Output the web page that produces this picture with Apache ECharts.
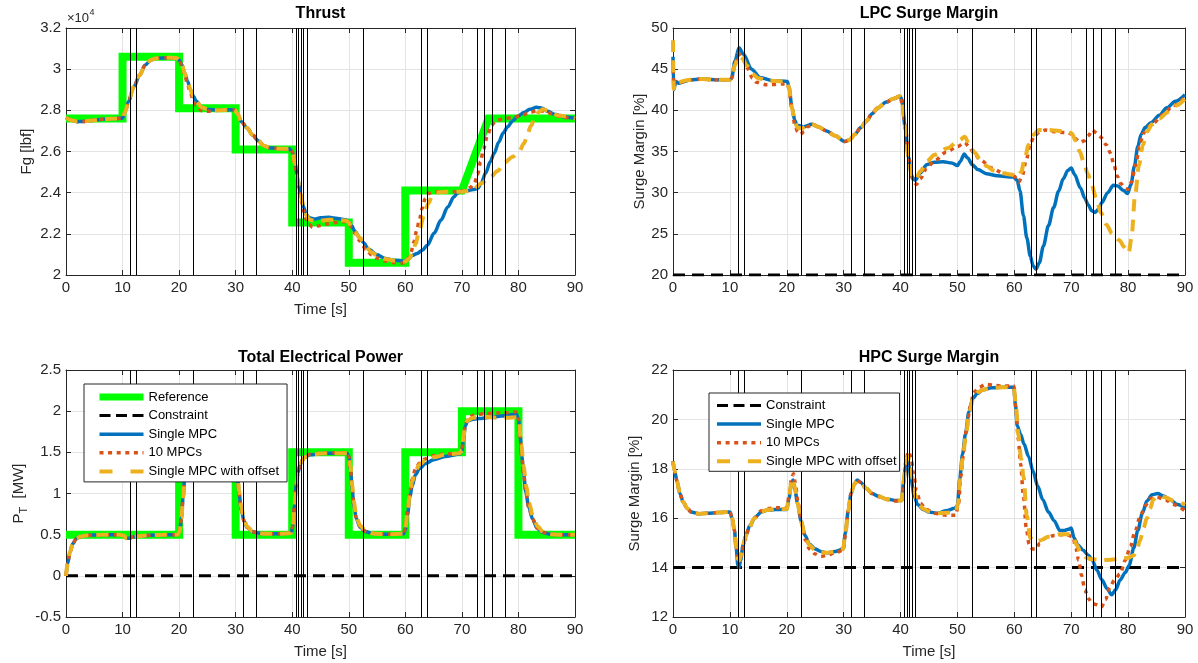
<!DOCTYPE html>
<html><head><meta charset="utf-8">
<script src="https://cdn.jsdelivr.net/npm/echarts@6/dist/echarts.min.js"></script>
<style>html,body{margin:0;padding:0;background:#fff}#c{width:1198px;height:663px}</style>
</head><body><div id="c"></div><script>
// ---------------- DATA ----------------
const timeTicks = [0, 10, 20, 30, 40, 50, 60, 70, 80, 90];
const switchTimes = [11.4, 12.5, 22.5, 31.3, 33.7, 40.7, 41.1, 41.6, 42.0, 42.6, 52.6, 62.9, 63.9, 72.7, 73.9, 75.3, 77.7];
const seriesNames = ['Reference', 'Constraint', 'Single MPC', '10 MPCs', 'Single MPC with offset'];

// Thrust [lbf]
const thrustRef = [[0,27600],[10,27600],[10,30600],[20,30600],[20,28100],[30,28100],[30,26100],[40,26100],[40,22550],[50,22550],[50,20600],[60,20600],[60,24100],[70,24100],[74.7,27600],[90,27600]];
const thrustSingle = [[0,27650],[1,27520],[2,27450],[3,27460],[5,27520],[7,27580],[9,27600],[10,27620],[10.5,27950],[11,28400],[12,29150],[13,29700],[14,30200],[15,30450],[16,30530],[18,30560],[19.5,30540],[20,30450],[20.5,30200],[21,29800],[21.5,29400],[22,29000],[22.5,28700],[23,28450],[24,28150],[25,28050],[27,28000],[29,28030],[29.8,28020],[30.3,27850],[31,27450],[32,27150],[33,26800],[34,26520],[35,26280],[36,26180],[38,26130],[39.5,26130],[40,26000],[40.5,25400],[41,24600],[41.5,23900],[42,23300],[42.5,22950],[43,22780],[44,22720],[45,22780],[46.5,22800],[48,22750],[49.5,22680],[50,22580],[50.5,22400],[51,22150],[52,21800],[52.6,21570],[53.5,21250],[55,20980],[56.5,20800],[58,20720],[59.5,20680],[60,20690],[60.5,20760],[61.2,20950],[62.1,21050],[63,21200],[63.9,21450],[65.1,22040],[66.3,22670],[67.5,23300],[68.6,23800],[69.2,23970],[70,24080],[71,24100],[72,24150],[72.8,24200],[73.4,24450],[74.2,24950],[75,25500],[75.7,25900],[76.5,26450],[77.3,26900],[78.1,27200],[79,27500],[79.8,27700],[81,27900],[82,28050],[83.2,28150],[84.2,28100],[85.2,27950],[86.5,27800],[88,27680],[90,27620]];
const thrustMPCs = [[0,27650],[1,27520],[2,27450],[3,27460],[5,27520],[7,27580],[9,27600],[10,27620],[10.5,27950],[11,28400],[12,29150],[13,29700],[14,30200],[15,30450],[16,30530],[18,30560],[19.5,30540],[20,30450],[20.5,30150],[21,29700],[21.5,29250],[22,28850],[22.5,28500],[23,28250],[24,27980],[25,27950],[26,27980],[27,28000],[29,28030],[29.8,28020],[30.3,27850],[31,27450],[32,27150],[33,26800],[34,26520],[35,26280],[36,26180],[38,26130],[39.5,26120],[40,26000],[40.5,25300],[41,24400],[41.5,23700],[42,23100],[42.5,22700],[43,22450],[43.6,22320],[44.5,22380],[46,22480],[48,22560],[49.5,22600],[50,22520],[50.5,22300],[51,22050],[52,21650],[53,21250],[54,20980],[55,20820],[56.5,20680],[58,20600],[59.5,20580],[60,20620],[60.5,20800],[61,21100],[61.5,21600],[62,22150],[62.5,22700],[63,23250],[63.5,23700],[64,23950],[65,24050],[67,24050],[69,24050],[70.5,24100],[71.5,24250],[72.2,24450],[72.8,24900],[73.3,25500],[73.8,26100],[74.5,26750],[75.2,27250],[76,27500],[77.5,27600],[79,27650],[80.5,27750],[82,27900],[83.5,28000],[85,27920],[86.5,27750],[88,27650],[90,27600]];
const thrustOffset = [[0,27650],[1,27520],[2,27450],[3,27460],[5,27520],[7,27580],[9,27600],[10,27620],[10.5,27950],[11,28400],[12,29150],[13,29700],[14,30200],[15,30450],[16,30530],[18,30560],[19.5,30540],[20,30450],[20.5,30200],[21,29800],[21.5,29400],[22,29000],[22.5,28700],[23,28450],[24,28150],[25,28050],[27,28000],[29,28030],[29.8,28020],[30.3,27850],[31,27450],[32,27150],[33,26800],[34,26520],[35,26280],[36,26180],[38,26130],[39.5,26130],[40,26000],[40.5,25400],[41,24600],[41.5,23900],[42,23300],[42.5,22900],[43,22700],[44,22620],[45,22640],[46.5,22680],[48,22680],[49.5,22650],[50,22550],[50.5,22350],[51,22100],[52,21800],[53,21400],[54,21100],[55,20950],[56.5,20780],[58,20700],[59.5,20660],[60,20660],[60.7,20800],[61.3,21100],[61.8,21500],[62.5,22200],[63.3,22900],[64,23450],[64.8,23850],[65.5,24000],[67,24050],[70,24050],[71,24080],[72,24150],[73.4,24450],[75.1,24780],[76.3,25050],[77.5,25450],[79,25750],[80.1,25990],[81,26400],[81.6,26850],[82.2,27250],[82.8,27550],[83.5,27900],[84.3,28050],[85.5,27950],[87,27750],[90,27600]];

// LPC surge margin [%]
const lpcConstraint = 20;
const lpcSingle = [[0,46.5],[0.12,42.5],[0.5,43.5],[1,43.3],[2,43.5],[3,43.7],[5,43.8],[8,43.7],[10,43.7],[10.3,43.9],[10.9,46.0],[11.6,47.6],[12.4,46.8],[13.8,45.0],[15.3,44.0],[17.6,43.6],[20.1,43.5],[20.4,42.8],[20.9,40.4],[21.4,38.8],[21.8,38.2],[22.9,38.0],[24.4,38.3],[25.5,38.0],[27,37.5],[28.5,36.9],[30.2,36.2],[31,36.4],[32,37.1],[33,37.9],[34,38.7],[35,39.6],[36,40.3],[37.5,41.0],[38.7,41.4],[39.9,41.7],[40.2,41.4],[40.8,38.0],[41.4,34.3],[42,31.9],[42.6,31.5],[43.5,32.4],[44.6,33.4],[46,33.7],[47.5,33.75],[49,33.6],[50,33.3],[50.5,33.8],[51.2,34.7],[51.8,34.2],[52.6,33.4],[53.6,32.8],[55.1,32.3],[57,32.05],[59.8,31.9],[60.5,31.5],[61,30.2],[61.6,27.2],[62.2,24.5],[62.8,22.3],[63.3,21.1],[63.8,20.7],[64.4,21.5],[65.1,23.5],[66,26],[66.9,28.2],[67.8,30.2],[68.6,31.7],[69.4,32.7],[70,33],[70.6,32.2],[71.6,30.6],[72.4,29.3],[73,28.5],[73.6,27.8],[74.2,27.6],[74.8,28.0],[75.4,28.8],[76.4,30.0],[77.4,30.9],[78.2,30.8],[79.1,30.3],[79.9,29.9],[80.5,31.0],[81.1,33.2],[81.7,35.6],[82.3,37.1],[83,37.9],[84,38.5],[85.5,39.4],[86.8,40.3],[88.3,41.1],[90,41.9]];
const lpcMPCs = [[0,46],[0.12,43.0],[0.5,43.5],[1,43.3],[2,43.5],[3,43.7],[5,43.8],[8,43.7],[10,43.7],[10.3,43.9],[10.9,45.5],[11.5,46.9],[12.2,46.4],[13,45.2],[14,43.9],[14.7,43.4],[16.5,43.1],[19.4,43.2],[20.1,43.2],[20.4,42.6],[20.9,40.2],[21.4,38.3],[21.9,37.4],[22.4,37.1],[23,37.4],[23.7,38.0],[24.5,38.3],[25.5,38.0],[27,37.5],[28.5,36.9],[30.2,36.2],[31,36.4],[32,37.1],[33,37.9],[34,38.7],[35,39.6],[36,40.3],[37.5,41.0],[38.7,41.4],[39.9,41.7],[40.3,40.8],[40.9,37.5],[41.5,34],[42.1,31.7],[42.8,31],[43.5,31.7],[44.5,32.9],[46,33.9],[48,34.9],[50,35.6],[51.3,36.1],[52,35.6],[52.8,34.9],[54,34],[56,33],[58,32.4],[60,32],[60.8,31.3],[61.4,32.1],[62.1,34],[62.8,35.9],[63.5,36.9],[64.5,37.4],[65.5,37.6],[67,37.4],[69,37.3],[70.3,37.1],[71,36.4],[71.6,36.1],[72.3,36.3],[73,36.9],[73.7,37.6],[74.3,37.3],[75.1,36.8],[76.2,35.8],[76.9,34.8],[77.5,33.4],[78.1,32],[78.7,31.1],[79.4,30.6],[80,30.4],[80.6,31.3],[81.3,33.3],[82,35.6],[82.7,37.2],[83.5,38],[84.5,38.5],[86,39.4],[88,40.6],[90,41.6]];
const lpcOffset = [[0,48.5],[0.12,42.6],[0.5,43.5],[1,43.4],[2,43.6],[3,43.7],[5,43.8],[8,43.7],[10,43.7],[10.3,43.9],[10.9,45.5],[11.5,46.6],[12.2,46.3],[13,45.4],[14,44.4],[15,43.9],[16.5,43.6],[19.4,43.5],[20.1,43.5],[20.4,42.7],[20.9,40.3],[21.4,38.6],[21.9,37.9],[22.6,37.8],[23.5,38.1],[24.4,38.3],[25.5,38.0],[27,37.5],[28.5,36.9],[30.2,36.2],[31,36.4],[32,37.1],[33,37.9],[34,38.7],[35,39.6],[36,40.3],[37.5,41.0],[38.7,41.4],[39.9,41.7],[40.2,41.4],[40.8,38.0],[41.4,34.3],[42,31.9],[42.6,31.6],[43.5,32.6],[44.6,33.8],[46,34.6],[48.2,35.4],[50.4,36.4],[51.3,36.8],[52.2,35.6],[53,34.9],[54,34.0],[55.2,33.2],[56.3,32.7],[58,32.35],[59.5,32.2],[60.5,31.9],[61.2,32.5],[61.8,34.0],[62.5,35.8],[63.3,37],[64.3,37.6],[66,37.6],[68,37.5],[69.3,37.5],[70.1,37.2],[70.8,36.3],[71.5,35.0],[72.2,33.7],[72.9,32.3],[73.6,30.9],[74.4,29.3],[75.2,27.6],[76.2,26.1],[77.2,25.0],[78.5,24.2],[79.3,23.4],[80.1,22.7],[80.6,24.5],[81.2,29.5],[81.9,33.3],[82.6,35.8],[83.3,37.4],[84.2,38.3],[85.5,39],[87,39.8],[88.5,40.6],[90,41.4]];

// Total electrical power [MW]
const powerConstraint = 0;
const powerRef = [[0,0.5],[20,0.5],[20,1.5],[30,1.5],[30,0.5],[40,0.5],[40,1.5],[50,1.5],[50,0.5],[60,0.5],[60,1.5],[70,1.5],[70,2.0],[80,2.0],[80,0.5],[90,0.5]];
const powerSingle = [[0,0],[0.3,0.15],[0.7,0.29],[1.2,0.39],[1.8,0.45],[2.5,0.475],[3.5,0.49],[5,0.495],[7,0.5],[9.5,0.5],[10.2,0.49],[10.7,0.455],[11.2,0.455],[11.7,0.47],[12.5,0.48],[14,0.49],[16,0.495],[18,0.5],[19.7,0.5],[20.1,0.54],[20.4,0.7],[20.7,0.95],[21,1.2],[21.3,1.38],[21.8,1.46],[23,1.49],[25,1.5],[29.7,1.5],[30,1.45],[30.3,1.25],[30.6,1.0],[31,0.8],[31.5,0.66],[32,0.59],[33,0.535],[34.5,0.515],[36,0.51],[38,0.51],[39.8,0.52],[40.1,0.6],[40.4,0.85],[40.7,1.1],[41,1.25],[41.5,1.37],[42.2,1.44],[43.2,1.47],[45,1.485],[47,1.49],[49.7,1.49],[50,1.45],[50.3,1.3],[50.6,1.05],[50.9,0.85],[51.3,0.7],[52,0.59],[53,0.535],[54.5,0.51],[57,0.505],[59.7,0.51],[60,0.56],[60.4,0.75],[60.8,0.95],[61.2,1.09],[61.8,1.23],[62.5,1.3],[63.5,1.36],[65,1.41],[67,1.45],[69.7,1.48],[70,1.52],[70.3,1.68],[70.6,1.82],[71,1.88],[71.8,1.9],[73,1.91],[75,1.925],[77,1.94],[79,1.96],[79.6,1.97],[80,1.9],[80.3,1.7],[80.6,1.45],[80.9,1.25],[81.3,1.02],[81.8,0.84],[82.5,0.69],[83.3,0.58],[84.2,0.53],[85.5,0.505],[87,0.5],[90,0.5]];
const powerMPCs = [[0,0],[0.3,0.15],[0.7,0.29],[1.2,0.39],[1.8,0.45],[2.5,0.475],[3.5,0.49],[5,0.495],[7,0.5],[9.5,0.5],[10.2,0.49],[10.7,0.455],[11.2,0.455],[11.7,0.47],[12.5,0.48],[14,0.49],[16,0.495],[18,0.5],[19.7,0.5],[20.1,0.54],[20.4,0.7],[20.7,0.95],[21,1.2],[21.3,1.38],[21.8,1.46],[23,1.49],[25,1.5],[29.7,1.5],[30,1.45],[30.3,1.25],[30.6,1.0],[31,0.8],[31.5,0.66],[32,0.59],[33,0.535],[34.5,0.515],[36,0.51],[38,0.51],[39.8,0.52],[40.1,0.6],[40.4,0.85],[40.7,1.1],[41,1.26],[41.5,1.38],[42.2,1.45],[43.2,1.48],[45,1.49],[47,1.495],[49.7,1.495],[50,1.45],[50.3,1.3],[50.6,1.05],[50.9,0.86],[51.3,0.71],[52,0.6],[53,0.54],[54.5,0.515],[57,0.505],[59.7,0.51],[60,0.58],[60.4,0.8],[60.8,1.02],[61.2,1.17],[61.8,1.3],[62.5,1.37],[63.5,1.42],[65,1.46],[67,1.48],[69.7,1.49],[70,1.53],[70.3,1.7],[70.6,1.84],[71,1.91],[72,1.95],[74,1.97],[77,1.98],[79.6,1.99],[80,1.91],[80.3,1.7],[80.6,1.45],[80.9,1.25],[81.3,1.02],[81.8,0.84],[82.5,0.69],[83.3,0.58],[84.2,0.53],[85.5,0.505],[87,0.5],[90,0.5]];
const powerOffset = [[0,0],[0.3,0.15],[0.7,0.29],[1.2,0.39],[1.8,0.45],[2.5,0.475],[3.5,0.49],[5,0.495],[7,0.5],[9.5,0.5],[10.2,0.49],[10.7,0.455],[11.2,0.455],[11.7,0.47],[12.5,0.48],[14,0.49],[16,0.495],[18,0.5],[19.7,0.5],[20.1,0.54],[20.4,0.7],[20.7,0.95],[21,1.2],[21.3,1.38],[21.8,1.46],[23,1.49],[25,1.5],[29.7,1.5],[30,1.46],[30.3,1.27],[30.6,1.03],[31,0.83],[31.5,0.68],[32,0.6],[33,0.54],[34.5,0.515],[36,0.51],[38,0.51],[39.8,0.52],[40.1,0.6],[40.4,0.85],[40.7,1.1],[41,1.25],[41.5,1.37],[42.2,1.44],[43.2,1.47],[45,1.485],[47,1.49],[49.7,1.49],[50,1.46],[50.3,1.33],[50.6,1.1],[50.9,0.9],[51.3,0.73],[52,0.61],[53,0.54],[54.5,0.51],[57,0.505],[59.7,0.51],[60,0.57],[60.4,0.78],[60.8,0.99],[61.2,1.14],[61.8,1.28],[62.5,1.35],[63.5,1.4],[65,1.44],[67,1.47],[69.7,1.49],[70,1.53],[70.3,1.7],[70.6,1.83],[71,1.89],[72,1.92],[74,1.93],[76,1.92],[78,1.92],[79.7,1.925],[80.1,1.86],[80.5,1.6],[80.9,1.33],[81.4,1.08],[81.9,0.88],[82.6,0.71],[83.4,0.6],[84.4,0.53],[85.8,0.505],[87,0.5],[90,0.5]];

// HPC surge margin [%]
const hpcConstraint = 14;
const hpcSingle = [[0,18.3],[0.3,17.9],[0.7,17.5],[1.2,17.0],[1.8,16.65],[2.5,16.4],[3.2,16.25],[4.5,16.18],[6,16.2],[8,16.23],[10,16.25],[10.4,16.0],[10.8,15.5],[11.1,14.8],[11.4,14.1],[11.6,14.0],[11.9,14.3],[12.3,14.9],[12.8,15.3],[13.5,15.7],[14.5,16.05],[15.5,16.25],[16.5,16.32],[18,16.35],[20,16.35],[20.4,16.8],[20.8,17.4],[21.1,17.55],[21.4,17.2],[21.9,16.6],[22.5,15.9],[23.2,15.3],[24,14.95],[25,14.75],[26,14.65],[27,14.6],[28.5,14.65],[29.9,14.75],[30.3,15.4],[30.8,16.3],[31.3,17.0],[31.8,17.35],[32.4,17.55],[33,17.45],[34,17.2],[35,17.0],[36,16.9],[37.5,16.78],[39,16.72],[40.2,16.72],[40.5,17.4],[40.9,18.1],[41.2,18.3],[41.5,18.1],[41.9,17.5],[42.4,16.9],[43,16.55],[44,16.35],[45,16.25],[46.5,16.2],[48,16.3],[49.5,16.4],[50,16.5],[50.4,17.6],[50.9,18.6],[51.4,19.4],[52,20.3],[52.7,20.85],[53.5,21.05],[54.5,21.2],[56,21.28],[58,21.3],[59.9,21.3],[60.2,20.6],[60.5,19.75],[61.1,19.4],[61.7,19.0],[62.5,18.5],[63.3,17.9],[64.1,17.3],[65,16.75],[66,16.25],[67,15.9],[68,15.5],[68.8,15.5],[69.5,15.55],[70,15.6],[70.5,15.2],[71.2,14.9],[72.1,14.7],[73,14.5],[73.7,14.3],[74.5,13.9],[75.4,13.5],[76.3,13.15],[77.1,12.9],[77.8,13.1],[78.6,13.5],[79.5,13.8],[80.2,14.1],[81,14.8],[81.7,15.5],[82.5,16.2],[83.3,16.7],[84.2,16.95],[85.2,17.0],[86.2,16.9],[87.4,16.75],[88.7,16.55],[90,16.4]];
const hpcMPCs = [[0,18.3],[0.3,17.9],[0.7,17.5],[1.2,17.0],[1.8,16.65],[2.5,16.4],[3.2,16.25],[4.5,16.18],[6,16.2],[8,16.23],[10,16.25],[10.4,16.0],[10.8,15.5],[11.1,14.9],[11.4,14.35],[11.7,14.3],[12.1,14.6],[12.6,15.1],[13.3,15.55],[14.3,16.0],[15.5,16.3],[16.5,16.38],[18,16.42],[20,16.42],[20.4,16.9],[20.8,17.6],[21.2,17.8],[21.5,17.4],[22,16.6],[22.6,15.8],[23.3,15.1],[24,14.75],[25,14.55],[26,14.45],[27,14.5],[28.5,14.6],[29.9,14.7],[30.3,15.3],[30.8,16.3],[31.3,17.0],[31.8,17.35],[32.4,17.5],[33,17.45],[34,17.2],[35,17.0],[36,16.88],[37.5,16.76],[39,16.7],[40.2,16.7],[40.6,17.6],[41,18.4],[41.4,18.7],[41.8,18.5],[42.3,17.8],[42.8,17.1],[43.5,16.6],[44.5,16.35],[46,16.2],[48,16.12],[49.7,16.12],[50.2,16.6],[50.6,17.7],[51.1,18.7],[51.6,19.6],[52.2,20.5],[52.9,21.1],[53.8,21.3],[55,21.42],[56.5,21.38],[58,21.35],[59.9,21.35],[60.3,20.3],[60.7,19.2],[61.1,18.2],[61.6,16.9],[62.1,15.6],[62.6,14.95],[63.2,14.75],[63.8,14.75],[64.5,15.0],[65.5,15.2],[67,15.3],[69,15.35],[70.3,15.25],[70.8,14.8],[71.3,14.3],[71.8,13.7],[72.4,13.1],[73,12.75],[73.7,12.55],[74.5,12.5],[75.3,12.4],[76,12.7],[76.8,13.2],[77.6,13.5],[78.6,13.75],[79.5,14.3],[80.4,14.85],[81.2,15.45],[82.1,16.05],[83,16.5],[83.9,16.8],[85,16.85],[86.5,16.75],[88,16.55],[90,16.3]];
const hpcOffset = [[0,18.3],[0.3,17.9],[0.7,17.5],[1.2,17.0],[1.8,16.65],[2.5,16.4],[3.2,16.25],[4.5,16.18],[6,16.2],[8,16.23],[10,16.25],[10.4,16.0],[10.8,15.5],[11.1,14.85],[11.4,14.35],[11.7,14.3],[12.1,14.65],[12.6,15.15],[13.3,15.6],[14.3,16.0],[15.5,16.27],[16.5,16.33],[18,16.37],[20,16.37],[20.4,16.85],[20.8,17.45],[21.1,17.6],[21.4,17.25],[21.9,16.6],[22.5,15.9],[23.2,15.25],[24,14.9],[25,14.7],[26,14.62],[27,14.6],[28.5,14.65],[29.9,14.75],[30.3,15.4],[30.8,16.3],[31.3,17.0],[31.8,17.35],[32.4,17.52],[33,17.45],[34,17.2],[35,17.0],[36,16.9],[37.5,16.78],[39,16.72],[40.2,16.72],[40.5,17.4],[40.9,18.2],[41.3,18.5],[41.6,18.3],[42,17.7],[42.5,17.0],[43.1,16.6],[44,16.38],[45,16.27],[46.5,16.2],[48,16.22],[49.7,16.25],[50.1,16.6],[50.5,17.6],[51,18.6],[51.5,19.4],[52.1,20.3],[52.8,20.9],[53.6,21.1],[54.5,21.2],[56,21.28],[58,21.3],[59.9,21.3],[60.3,20.5],[60.7,19.4],[61.2,18.4],[61.6,17.7],[62.2,16.1],[62.8,15.2],[63.5,15.05],[64.5,15.1],[66,15.25],[68,15.35],[69.8,15.35],[70.4,15.2],[71,14.9],[71.6,14.65],[72.1,14.5],[72.7,14.4],[73.3,14.35],[75.1,14.3],[77,14.32],[78.6,14.35],[80,14.4],[81,14.5],[81.6,14.8],[82.1,15.1],[82.7,15.6],[83.3,16.0],[83.9,16.4],[84.4,16.75],[85,16.85],[85.6,16.9],[86.5,16.85],[88,16.7],[90,16.55]];

// ---------------- CHART ----------------
const FONT = 'Liberation Sans, Arial, Helvetica, sans-serif';
const AX = '#262626';
const COL = {ref: '#00ff00', con: '#000000', single: '#0072bd', mpcs: '#d95319', off: '#edb120'};
const STY = {
  ref: {color: COL.ref, width: 8, cap: 'butt', join: 'miter'},
  con: {color: COL.con, width: 3, type: [12, 7], cap: 'butt'},
  single: {color: COL.single, width: 3.5},
  mpcs: {color: COL.mpcs, width: 3.5, type: [4, 4.6], cap: 'butt'},
  off: {color: COL.off, width: 4, type: [12, 8], cap: 'butt'}
};

const grids = [
  {left: 66, top: 28, width: 509, height: 247},
  {left: 673, top: 28, width: 512, height: 247},
  {left: 66, top: 370, width: 509, height: 247},
  {left: 673, top: 370, width: 512, height: 247}
];
const yCfg = [
  {min: 20000, max: 32000, interval: 2000, fmt: v => String(v / 10000), name: 'Fg [lbf]', gap: 32},
  {min: 20, max: 50, interval: 5, fmt: v => String(v), name: 'Surge Margin [%]', gap: 26},
  {min: -0.5, max: 2.5, interval: 0.5, fmt: v => String(v), name: 'P{s|T}  [MW]', gap: 37},
  {min: 12, max: 22, interval: 2, fmt: v => String(v), name: 'Surge Margin [%]', gap: 31}
];
const xNames = ['Time [s]', '', 'Time [s]', 'Time [s]'];

const xAxis = [], yAxis = [];
grids.forEach((g, i) => {
  const base = {type: 'value', gridIndex: i, min: timeTicks[0], max: timeTicks[timeTicks.length - 1], interval: timeTicks[1] - timeTicks[0]};
  xAxis.push(Object.assign({}, base, {
    position: 'bottom',
    axisLine: {show: true, onZero: false, lineStyle: {color: AX, width: 1}},
    axisTick: {show: true, inside: true, length: 5, lineStyle: {color: AX}},
    axisLabel: {margin: 5, color: AX, fontSize: 15, fontFamily: FONT},
    splitLine: {show: true, lineStyle: {color: '#e4e4e4', width: 1}},
    name: xNames[i], nameLocation: 'middle', nameGap: 27,
    nameTextStyle: {color: AX, fontSize: 15, fontFamily: FONT}
  }));
  xAxis.push(Object.assign({}, base, {
    position: 'top',
    axisLine: {show: true, onZero: false, lineStyle: {color: AX, width: 1}},
    axisTick: {show: true, inside: true, length: 5, lineStyle: {color: AX}},
    axisLabel: {show: false}, splitLine: {show: false}
  }));
  const yc = yCfg[i];
  const yb = {type: 'value', gridIndex: i, min: yc.min, max: yc.max, interval: yc.interval};
  yAxis.push(Object.assign({}, yb, {
    position: 'left',
    axisLine: {show: true, onZero: false, lineStyle: {color: AX, width: 1}},
    axisTick: {show: true, inside: true, length: 5, lineStyle: {color: AX}},
    axisLabel: {margin: 5, color: AX, fontSize: 15, fontFamily: FONT, formatter: yc.fmt},
    splitLine: {show: true, lineStyle: {color: '#e4e4e4', width: 1}},
    name: yc.name, nameLocation: 'middle', nameGap: yc.gap, nameRotate: 90,
    nameTextStyle: {color: AX, fontSize: 15, fontFamily: FONT, rich: {s: {fontSize: 11, fontFamily: FONT, color: AX, padding: [10, 0, 0, 0]}}}
  }));
  yAxis.push(Object.assign({}, yb, {
    position: 'right',
    axisLine: {show: true, onZero: false, lineStyle: {color: AX, width: 1}},
    axisTick: {show: true, inside: true, length: 5, lineStyle: {color: AX}},
    axisLabel: {show: false}, splitLine: {show: false}
  }));
});

function line(name, data, gi, style, smooth) {
  return {type: 'line', name: name, data: data, xAxisIndex: 2 * gi, yAxisIndex: 2 * gi,
    symbol: 'none', showSymbol: false, smooth: smooth ? 0.3 : false, smoothMonotone: 'x',
    lineStyle: style, itemStyle: {color: style.color}, color: style.color,
    silent: true, animation: false, z: 2, emphasis: {disabled: true}};
}
function hline(v) { return [[timeTicks[0], v], [timeTicks[timeTicks.length - 1], v]]; }
function vlines(gi) {
  return {type: 'line', name: 'switch', data: [], xAxisIndex: 2 * gi, yAxisIndex: 2 * gi, silent: true, z: 3,
    markLine: {silent: true, symbol: ['none', 'none'], label: {show: false}, animation: false,
      lineStyle: {color: '#000', width: 1, type: 'solid'}, emphasis: {disabled: true},
      data: switchTimes.map(t => ({xAxis: t}))}};
}

const series = [
  line('Reference', thrustRef, 0, STY.ref, false),
  line('Single MPC', thrustSingle, 0, STY.single, true),
  line('10 MPCs', thrustMPCs, 0, STY.mpcs, true),
  line('Single MPC with offset', thrustOffset, 0, STY.off, true),
  vlines(0),
  line('Constraint', hline(lpcConstraint), 1, STY.con, false),
  line('Single MPC', lpcSingle, 1, STY.single, true),
  line('10 MPCs', lpcMPCs, 1, STY.mpcs, true),
  line('Single MPC with offset', lpcOffset, 1, STY.off, true),
  vlines(1),
  line('Reference', powerRef, 2, STY.ref, false),
  line('Constraint', hline(powerConstraint), 2, STY.con, false),
  line('Single MPC', powerSingle, 2, STY.single, true),
  line('10 MPCs', powerMPCs, 2, STY.mpcs, true),
  line('Single MPC with offset', powerOffset, 2, STY.off, true),
  vlines(2),
  line('Constraint', hline(hpcConstraint), 3, STY.con, false),
  line('Single MPC', hpcSingle, 3, STY.single, true),
  line('10 MPCs', hpcMPCs, 3, STY.mpcs, true),
  line('Single MPC with offset', hpcOffset, 3, STY.off, true),
  vlines(3)
];

const legendLine = {
  'Reference': {color: COL.ref, width: 7, type: 'solid'},
  'Constraint': {color: COL.con, width: 3, type: [11, 5.5]},
  'Single MPC': {color: COL.single, width: 3.5, type: 'solid'},
  '10 MPCs': {color: COL.mpcs, width: 3.5, type: [4, 4.6]},
  'Single MPC with offset': {color: COL.off, width: 4, type: [13, 18]}
};
function legendItems(names) {
  return names.map(n => ({name: n, lineStyle: legendLine[n], itemStyle: {opacity: 0, color: 'rgba(0,0,0,0)', borderWidth: 0}}));
}
const legendCommon = {orient: 'vertical', itemWidth: 44, itemHeight: 14, itemGap: 5.6, selectedMode: false,
  backgroundColor: '#fff', borderColor: AX, borderWidth: 1, borderRadius: 0, z: 10,
  textStyle: {color: '#000', fontSize: 13, fontFamily: FONT}};

const titleStyle = t => ({font: 'bold 16px ' + FONT, fill: '#000', text: t, textAlign: 'center', textVerticalAlign: 'middle'});
const option = {
  backgroundColor: '#fff',
  animation: false,
  grid: grids.map(g => Object.assign({containLabel: false}, g)),
  xAxis: xAxis, yAxis: yAxis,
  legend: [
    Object.assign({}, legendCommon, {left: 84, top: 384, padding: [6.5, 8, 4, 12], data: legendItems(seriesNames)}),
    Object.assign({}, legendCommon, {left: 709, top: 393, padding: [6, 3, 3.5, 6], data: legendItems(seriesNames.slice(1))})
  ],
  graphic: [
    {type: 'text', x: 320.5, y: 14, style: titleStyle('Thrust')},
    {type: 'text', x: 929, y: 14, style: titleStyle('LPC Surge Margin')},
    {type: 'text', x: 320.5, y: 357.5, style: titleStyle('Total Electrical Power')},
    {type: 'text', x: 929, y: 357.5, style: titleStyle('HPC Surge Margin')},
    {type: 'text', x: 67, y: 18, style: {text: '\u00d710', font: '13px ' + FONT, fill: AX, textVerticalAlign: 'middle'}},
    {type: 'text', x: 89.5, y: 12.5, style: {text: '4', font: '9px ' + FONT, fill: AX, textVerticalAlign: 'middle'}}
  ],
  series: series
};
const chart = echarts.init(document.getElementById('c'), null, {renderer: 'canvas'});
chart.setOption(option);
</script></body></html>
